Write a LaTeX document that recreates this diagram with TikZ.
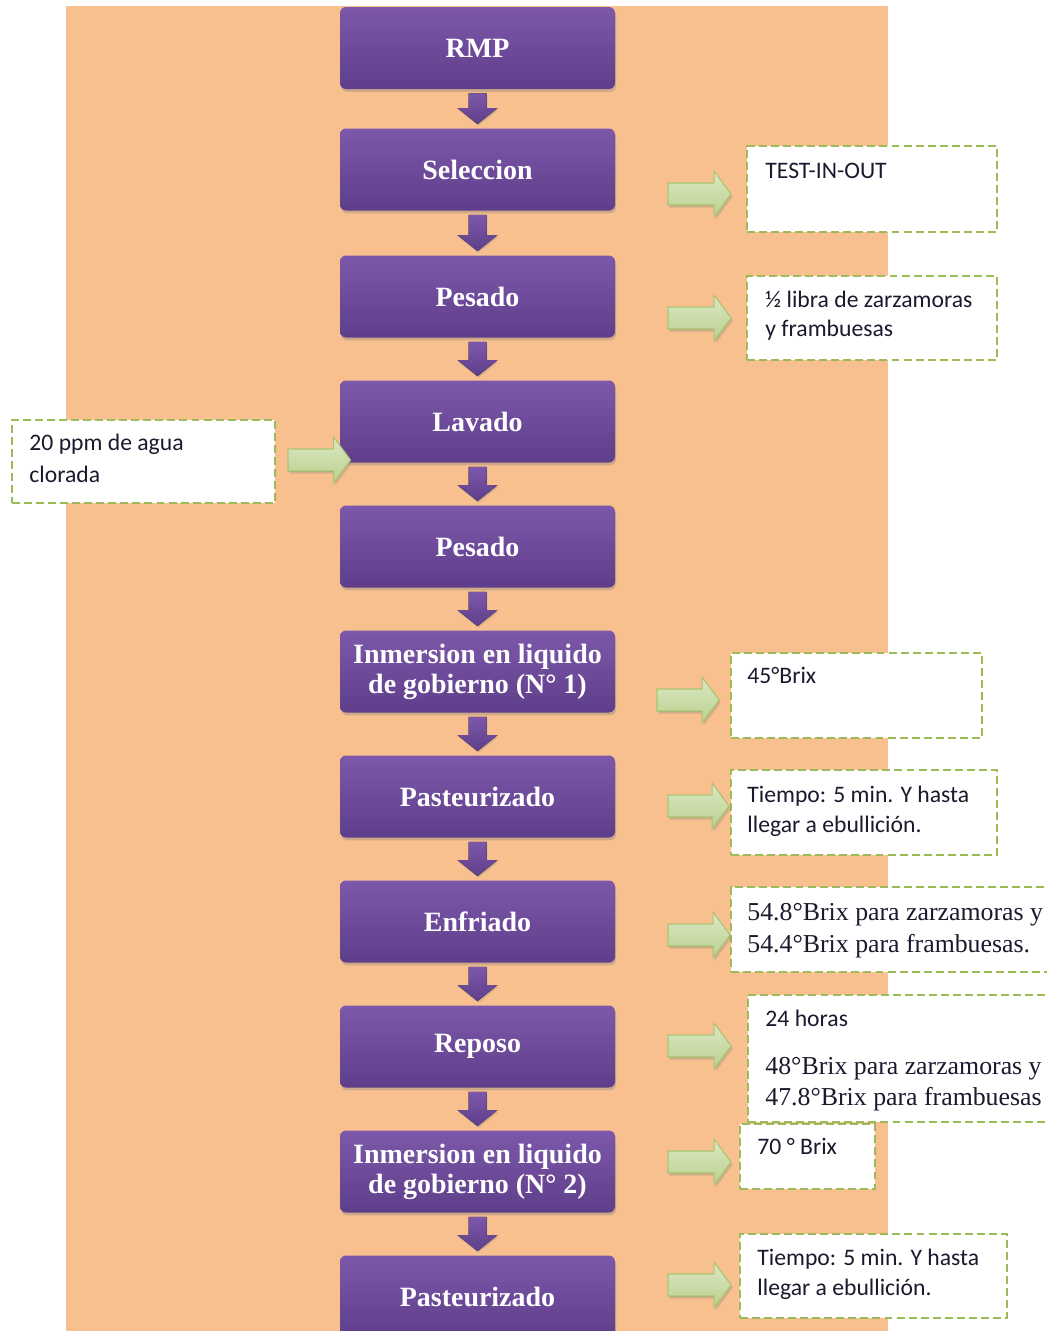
\documentclass[tikz,border=0pt]{standalone}
\usepackage{fontspec}
\setmainfont{Liberation Serif}
\newfontfamily\calibri{Carlito}
\usetikzlibrary{calc,shadows}
\definecolor{orangebg}{HTML}{F8C08F}
\definecolor{purtop}{HTML}{7D58AA}
\definecolor{purbot}{HTML}{5E3E8A}
\definecolor{grnline}{HTML}{9BBB59}
\definecolor{grnlight}{HTML}{F4F8EC}
\definecolor{grnmid}{HTML}{DCE8C6}
\definecolor{grndark}{HTML}{B9D08C}
\definecolor{txt}{HTML}{1A1A2E}
\newcommand\downarr[2]{%
  \fill[downarrow] ($(#1.south)+(-9,4)$) -- ($(#1.south)+(9,4)$) -- ($(#2.north)+(9,-20)$) -- ($(#2.north)+(20,-20)$) -- ($(#2.north)+(0,-4)$) -- ($(#2.north)+(-20,-20)$) -- ($(#2.north)+(-9,-20)$) -- cycle;}
\newcommand\sidearr[3]{%
  \coordinate (tip) at ($(#1 -| #2.west)+(-#3,0)$);
  \filldraw[sidearrow] ($(#1)+(0,-11)$) -- ($(tip)+(-17,-11)$) -- ($(tip)+(-17,-23)$) -- (tip) -- ($(tip)+(-17,23)$) -- ($(tip)+(-17,11)$) -- ($(#1)+(0,11)$) -- cycle;}
\begin{document}
\begin{tikzpicture}[x=0.465pt,y=-0.465pt,
  stepbox/.style={rounded corners=2.8pt, top color=purtop, bottom color=purbot, draw=none,
    minimum width=275*0.465pt, minimum height=82*0.465pt, text=white, inner sep=0pt,
    font=\fontsize{13}{14}\selectfont\bfseries, align=center,
    drop shadow={shadow xshift=0.5pt, shadow yshift=-1.3pt, opacity=0.35}},
  downarrow/.style={top color=purtop, bottom color=purbot, drop shadow={shadow xshift=0.4pt, shadow yshift=-0.8pt, opacity=0.3}},
  sidearrow/.style={draw=grnline!85, line width=0.5pt, top color=grnmid, middle color=grnlight, bottom color=grndark,
    drop shadow={shadow xshift=0.8pt, shadow yshift=-1.2pt, opacity=0.3}},
  notebox/.style 2 args={draw=grnline, line width=0.9pt, dash pattern=on 3.7pt off 1.9pt, fill=white, inner sep=0pt,
    minimum width=#1*0.465pt, minimum height=#2*0.465pt},
  lab/.style={anchor=base west, inner sep=0pt, text=txt, font=\calibri\fontsize{11}{13}\selectfont},
  tlab/.style={anchor=base west, inner sep=0pt, text=txt, font=\fontsize{12}{14}\selectfont}]
\useasboundingbox (0,0) rectangle (1047,1331);
\clip (0,0) rectangle (1047,1331);
\fill[orangebg] (66,6) rectangle (888,1331);

% process steps
\node[stepbox] (n1) at (477.5,48) {RMP};
\node[stepbox] (n2) at (477.5,169.5) {Seleccion};
\node[stepbox] (n3) at (477.5,296.5) {Pesado};
\node[stepbox] (n4) at (477.5,421.5) {Lavado};
\node[stepbox] (n5) at (477.5,546.5) {Pesado};
\node[stepbox] (n6) at (477.5,671.5) {Inmersion en liquido\\de gobierno (N° 1)};
\node[stepbox] (n7) at (477.5,796.5) {Pasteurizado};
\node[stepbox] (n8) at (477.5,921.5) {Enfriado};
\node[stepbox] (n9) at (477.5,1046.5) {Reposo};
\node[stepbox] (n10) at (477.5,1171.5) {Inmersion en liquido\\de gobierno (N° 2)};
\node[stepbox] (n11) at (477.5,1296.5) {Pasteurizado};

\downarr{n1}{n2}
\downarr{n2}{n3}
\downarr{n3}{n4}
\downarr{n4}{n5}
\downarr{n5}{n6}
\downarr{n6}{n7}
\downarr{n7}{n8}
\downarr{n8}{n9}
\downarr{n9}{n10}
\downarr{n10}{n11}

% note boxes
\node[notebox={250}{86}] (t1) at (872,189) {};
\node[notebox={250}{84}] (t2) at (872,318) {};
\node[notebox={263}{83}] (t3) at (143.5,461.5) {};
\node[notebox={251}{85}] (t4) at (856.5,695.5) {};
\node[notebox={266}{85}] (t5) at (864,812.5) {};
\node[notebox={349}{85}] (t6) at (905.5,929.5) {};
\node[notebox={332}{127}] (t7) at (914,1058.5) {};
\node[notebox={135}{65}] (t8) at (807.5,1156.5) {};
\node[notebox={267}{84}] (t9) at (873.5,1276) {};

\node[lab] (l1) at (765,178) {TEST-IN-OUT};
\node[lab] (l2a) at (765,307) {½ libra de zarzamoras};
\node[lab] (l2b) at (765,336) {y frambuesas};
\node[lab] (l3a) at (29,450) {20 ppm de agua};
\node[lab] (l3b) at (29,482) {clorada};
\node[lab] (l4) at (747,683) {45°Brix};
\node[lab] (l5a) at (747,802) {Tiempo: 5 min. Y hasta};
\node[lab] (l5b) at (747,832) {llegar a ebullición.};
\node[tlab] (l6a) at (747,920) {54.8°Brix para zarzamoras y};
\node[tlab] (l6b) at (747,952) {54.4°Brix para frambuesas.};
\node[lab] (l7a) at (765,1026) {24 horas};
\node[tlab] (l7b) at (765,1074) {48°Brix para zarzamoras y};
\node[tlab] (l7c) at (765,1105) {47.8°Brix para frambuesas};
\node[lab] (l8) at (757,1154) {70 ° Brix};
\node[lab] (l9a) at (757,1265) {Tiempo: 5 min. Y hasta};
\node[lab] (l9b) at (757,1295) {llegar a ebullición.};

% side arrows
\coordinate (s1) at (668,194);
\coordinate (s2) at (668,318);
\coordinate (s3) at (288,460);
\coordinate (s4) at (657,700);
\coordinate (s5) at (668,806);
\coordinate (s6) at (668,935);
\coordinate (s7) at (668,1046);
\coordinate (s8) at (668,1162);
\coordinate (s9) at (668,1285);
\sidearr{s1}{t1}{15}
\sidearr{s2}{t2}{15}
\sidearr{s3}{n4}{-11}
\sidearr{s4}{t4}{11}
\sidearr{s5}{t5}{1}
\sidearr{s6}{t6}{0}
\sidearr{s7}{t7}{16}
\sidearr{s8}{t8}{8}
\sidearr{s9}{t9}{8}
\end{tikzpicture}
\end{document}
